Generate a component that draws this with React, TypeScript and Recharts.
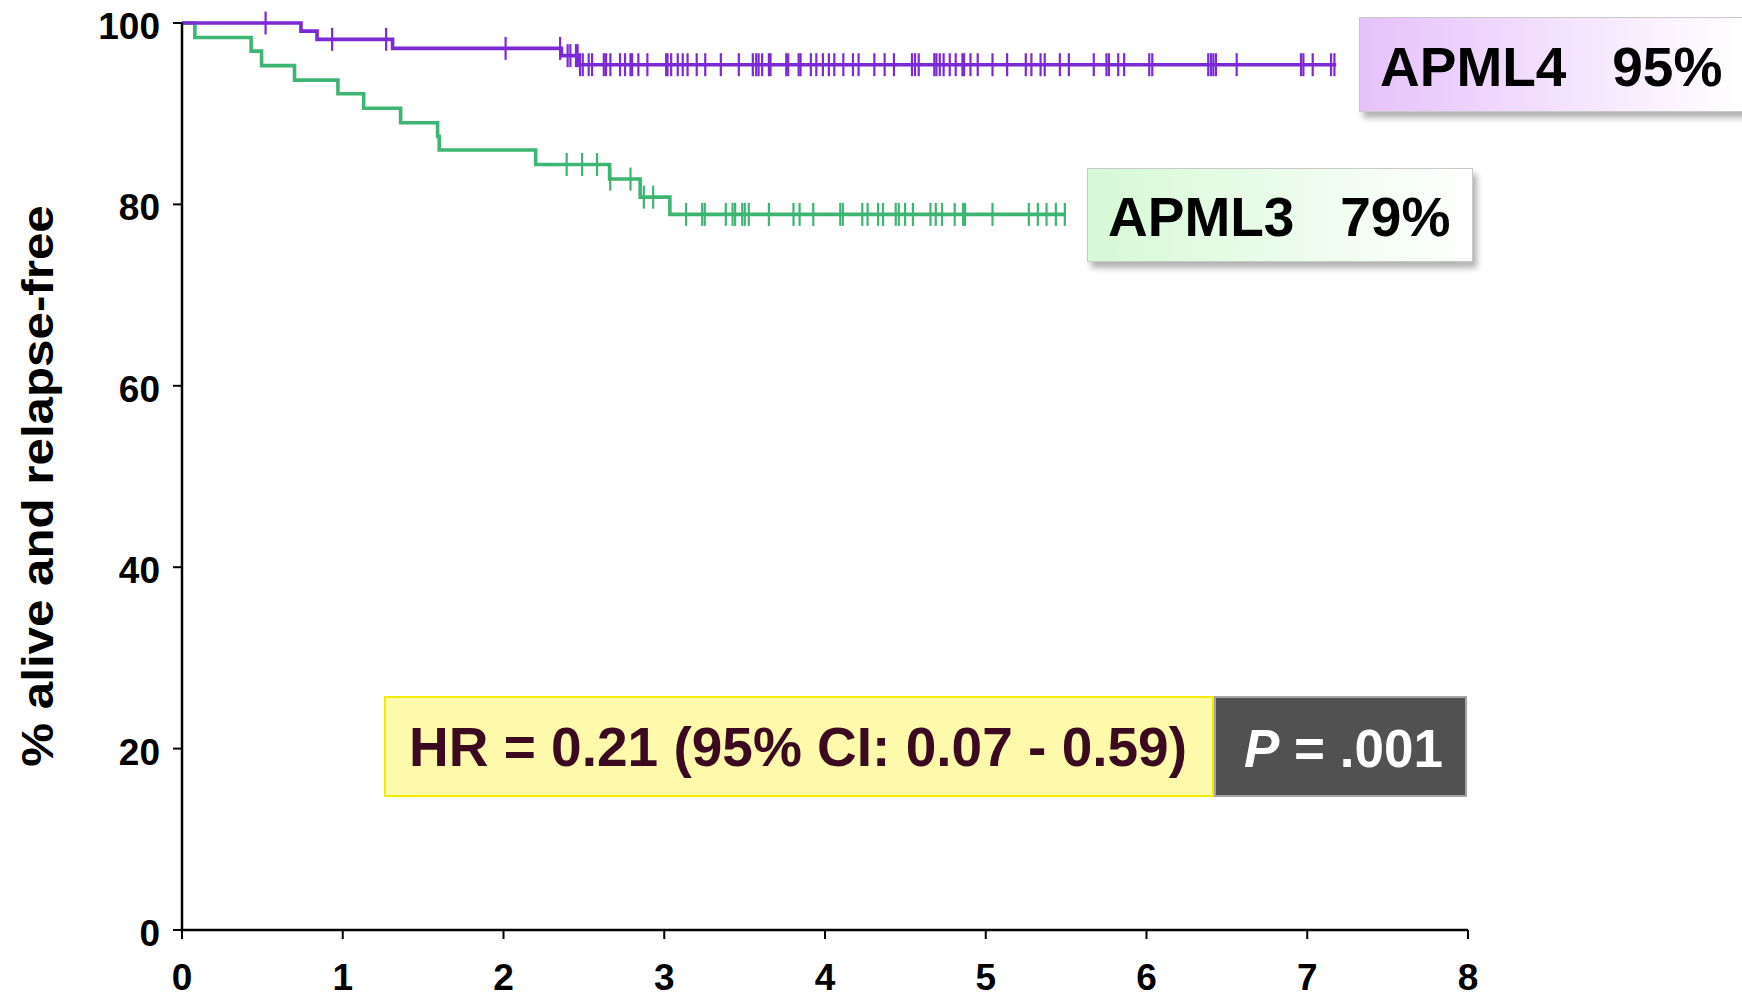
import React from 'react';
import { ComposedChart, Line, Scatter, XAxis, YAxis } from 'recharts';

// ---- data (years, % alive and relapse-free) ----
const apml4StepTimes = [0, 0.74, 0.84, 1.31, 2.36, 2.47, 7.18];
const apml4StepSurv = [100, 99.1, 98.2, 97.2, 96.4, 95.4, 95.4];
const apml4CensorTimes = [
  0.52, 0.934, 1.27, 2.013, 2.352, 2.399, 2.416, 2.451, 2.461, 2.476, 2.493, 2.53, 2.551,
  2.624, 2.638, 2.665, 2.725, 2.756, 2.79, 2.8, 2.839, 2.895, 3.012, 3.02, 3.043, 3.084,
  3.115, 3.145, 3.202, 3.255, 3.352, 3.464, 3.551, 3.572, 3.587, 3.609, 3.651, 3.661,
  3.759, 3.771, 3.836, 3.848, 3.912, 3.946, 3.987, 4.024, 4.058, 4.114, 4.174, 4.209,
  4.307, 4.371, 4.429, 4.541, 4.56, 4.583, 4.68, 4.693, 4.714, 4.738, 4.776, 4.813,
  4.855, 4.865, 4.905, 4.95, 5.042, 5.133, 5.249, 5.284, 5.341, 5.367, 5.461, 5.517,
  5.672, 5.751, 5.766, 5.824, 5.861, 6.017, 6.036, 6.384, 6.401, 6.416, 6.432, 6.561,
  6.961, 6.976, 7.034, 7.148, 7.169,
];

const apml3StepTimes = [0, 0.08, 0.43, 0.495, 0.7, 0.97, 1.13, 1.36, 1.59, 1.6, 2.2, 2.66, 2.85, 3.035, 5.492];
const apml3StepSurv = [100, 98.4, 96.9, 95.3, 93.7, 92.2, 90.6, 89.0, 87.5, 86.0, 84.4, 82.8, 80.8, 78.9, 78.9];
const apml3CensorTimes = [
  2.393, 2.489, 2.582, 2.664, 2.79, 2.873, 2.931, 3.136, 3.236, 3.252, 3.383, 3.425, 3.441,
  3.485, 3.501, 3.526, 3.651, 3.804, 3.842, 3.927, 4.095, 4.111, 4.232, 4.265, 4.33, 4.361,
  4.44, 4.459, 4.498, 4.547, 4.656, 4.689, 4.728, 4.807, 4.859, 4.871, 5.042, 5.268, 5.324,
  5.378, 5.436, 5.492,
];

const xTicks = [0, 1, 2, 3, 4, 5, 6, 7, 8];
const yTicks = [0, 20, 40, 60, 80, 100];
const yAxisTitle = '% alive and relapse-free';
const apml4Name = 'APML4';
const apml4Pct = '95%';
const apml3Name = 'APML3';
const apml3Pct = '79%';
const hrText = 'HR = 0.21 (95% CI: 0.07 - 0.59)';
const pLetter = 'P';
const pValue = ' = .001';

// ---- helpers ----
const toSteps = (times: number[], surv: number[]) => times.map((t, i) => ({ t, s: surv[i] }));
const stepAt = (times: number[], surv: number[], t: number) => {
  let v = surv[0];
  for (let i = 0; i < times.length; i++) if (times[i] <= t) v = surv[i];
  return v;
};
const toCensors = (ct: number[], times: number[], surv: number[]) =>
  ct.map((t) => ({ t, s: stepAt(times, surv, t) }));

const apml4Steps = toSteps(apml4StepTimes, apml4StepSurv);
const apml3Steps = toSteps(apml3StepTimes, apml3StepSurv);
const apml4Censors = toCensors(apml4CensorTimes, apml4StepTimes, apml4StepSurv);
const apml3Censors = toCensors(apml3CensorTimes, apml3StepTimes, apml3StepSurv);

const PURPLE = '#7c29d6';
const GREEN = '#3db573';
const FONT = '"Liberation Sans", Arial, Helvetica, sans-serif';

const censorShape = (color: string) => (props: any) => {
  const { cx, cy } = props;
  if (cx == null || cy == null) return <g />;
  return <line x1={cx} x2={cx} y1={cy - 11.5} y2={cy + 11.5} stroke={color} strokeWidth={2.2} />;
};

const YTick = (props: any) => {
  const { x, y, payload } = props;
  return (
    <text x={x} y={y} dy={16} textAnchor="end" fontFamily={FONT} fontWeight="bold" fontSize={37} fill="#000">
      {payload.value}
    </text>
  );
};

const XTick = (props: any) => {
  const { x, y, payload } = props;
  return (
    <text x={x} y={y} dy={26.5} textAnchor="middle" fontFamily={FONT} fontWeight="bold" fontSize={37} fill="#000">
      {payload.value}
    </text>
  );
};

const YTitle = () => (
  <text
    transform="translate(53, 486) rotate(-90) scale(1.12, 1)"
    textAnchor="middle"
    fontFamily={FONT}
    fontWeight="bold"
    fontSize={44}
    fill="#000"
  >
    {yAxisTitle}
  </text>
);

const textBase: React.CSSProperties = {
  position: 'absolute',
  fontFamily: FONT,
  fontWeight: 'bold',
  fontSize: 55,
  lineHeight: '55px',
  whiteSpace: 'pre',
};

export default function App() {
  return (
    <div style={{ position: 'absolute', left: 0, top: 0, width: 1742, height: 1000, overflow: 'hidden', background: '#fff' }}>
      <ComposedChart width={1742} height={1000} margin={{ top: 23, right: 274, bottom: 10, left: 0 }}>
        <XAxis
          dataKey="t"
          type="number"
          domain={[0, 8]}
          ticks={xTicks}
          interval={0}
          height={60}
          tickSize={9}
          tickMargin={24}
          axisLine={{ stroke: '#000', strokeWidth: 2.5 }}
          tickLine={{ stroke: '#000', strokeWidth: 2 }}
          tick={<XTick />}
        />
        <YAxis
          type="number"
          domain={[0, 100]}
          ticks={yTicks}
          interval={0}
          width={182}
          tickSize={9}
          tickMargin={13}
          axisLine={{ stroke: '#000', strokeWidth: 2.5 }}
          tickLine={{ stroke: '#000', strokeWidth: 2 }}
          tick={<YTick />}
          label={<YTitle />}
        />
        <Line
          data={apml3Steps}
          dataKey="s"
          type="stepAfter"
          stroke={GREEN}
          strokeWidth={3.6}
          dot={false}
          activeDot={false}
          isAnimationActive={false}
        />
        <Line
          data={apml4Steps}
          dataKey="s"
          type="stepAfter"
          stroke={PURPLE}
          strokeWidth={3.6}
          dot={false}
          activeDot={false}
          isAnimationActive={false}
        />
        <Scatter data={apml3Censors} dataKey="s" shape={censorShape(GREEN)} isAnimationActive={false} />
        <Scatter data={apml4Censors} dataKey="s" shape={censorShape(PURPLE)} isAnimationActive={false} />
      </ComposedChart>

      {/* APML4 label box */}
      <div
        style={{
          position: 'absolute', left: 1359, top: 17, width: 400, height: 95, boxSizing: 'border-box',
          background: 'linear-gradient(to right, #e6c1fb, #ffffff 95%)', border: '1.5px solid #c9c9c9',
          boxShadow: '4px 6px 6px rgba(0,0,0,0.3)',
        }}
      />
      <div style={{ ...textBase, left: 1380, top: 40, color: '#000' }}>{apml4Name + '   ' + apml4Pct}</div>

      {/* APML3 label box */}
      <div
        style={{
          position: 'absolute', left: 1087, top: 168, width: 386, height: 94, boxSizing: 'border-box',
          background: 'linear-gradient(to right, #d6f9d6, #ffffff)', border: '1.5px solid #c9c9c9',
          boxShadow: '4px 6px 6px rgba(0,0,0,0.3)',
        }}
      />
      <div style={{ ...textBase, left: 1108, top: 190, color: '#000' }}>{apml3Name + '   ' + apml3Pct}</div>

      {/* HR box */}
      <div
        style={{
          position: 'absolute', left: 384, top: 696, width: 830, height: 101, boxSizing: 'border-box',
          background: '#fdfbab', border: '2px solid #f3ec00',
        }}
      />
      <div style={{ ...textBase, left: 409, top: 720, color: '#3b0a20' }}>{hrText}</div>

      {/* P box */}
      <div
        style={{
          position: 'absolute', left: 1214, top: 696, width: 253, height: 101, boxSizing: 'border-box',
          background: '#515151', border: '2px solid #a4a4a4',
        }}
      />
      <div style={{ ...textBase, fontSize: 53, left: 1244, top: 721, color: '#fff' }}>
        <span style={{ fontStyle: 'italic' }}>{pLetter}</span>
        {pValue}
      </div>
    </div>
  );
}
